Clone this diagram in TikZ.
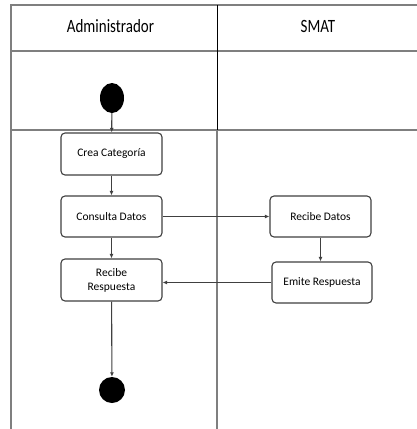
\documentclass[tikz,border=0pt]{standalone}
\usepackage{fontspec}
\setmainfont{Carlito}
\usetikzlibrary{arrows.meta,shapes.geometric}
\definecolor{frame}{HTML}{7F7F7F}
\definecolor{ink}{HTML}{404040}
\begin{document}
\begin{tikzpicture}[x=1pt,y=-1pt,
  lane/.style={draw=frame,line width=2pt},
  activity/.style={draw=ink,line width=1.1pt,rounded corners=4pt,fill=white,
    minimum width=101pt,minimum height=41pt,inner sep=2pt,align=center,
    font=\fontsize{11.5}{14}\selectfont},
  flow/.style={draw=ink,line width=1.1pt,-{Latex[length=4.5pt,width=4pt]}},
  header/.style={font=\fontsize{15}{18}\selectfont}]
\useasboundingbox (0,0) rectangle (417,429);
\fill[white] (0,0) rectangle (417,429);

% swimlane frame
\draw[lane] (417,5) -- (11,5) -- (11,429);
\draw[lane] (11,51) -- (417,51);
\draw[lane] (11,130) -- (417,130);
\draw[black,line width=1pt] (217,5) -- (217,130);
\draw[frame,line width=1.6pt] (217,130) -- (217,429);

% lane titles
\node[header] (hadmin) at (110.5,26) {\scalebox{1}[1.25]{Administrador}};
\node[header] (hsmat) at (318,26) {\scalebox{1}[1.25]{SMAT}};

% initial and final states
\node[ellipse,fill=black,minimum width=24pt,minimum height=30pt,inner sep=0pt] (start) at (112,98) {};
\node[circle,fill=black,minimum size=26pt,inner sep=0pt] (finish) at (112,390) {};

% activities
\node[activity,minimum height=42pt] (crea) at (111.5,154) {Crea Categoría};
\node[activity] (consulta) at (111.5,216.5) {Consulta Datos};
\node[activity,minimum height=42pt] (recresp) at (111.5,280) {Recibe\\Respuesta};
\node[activity] (recdat) at (320.5,216.5) {Recibe Datos};
\node[activity,minimum width=100pt] (emite) at (322,282.5) {Emite Respuesta};

% control flow
\draw[flow] (start) -- (crea);
\draw[flow] (crea) -- (consulta);
\draw[flow] (consulta) -- (recresp);
\draw[flow] (consulta) -- (recdat);
\draw[flow] (recdat.south) -- (recdat.south |- emite.north);
\draw[flow] (emite.west) -- (recresp.east |- emite.west);
\draw[flow] (recresp) -- (finish);
\end{tikzpicture}
\end{document}
